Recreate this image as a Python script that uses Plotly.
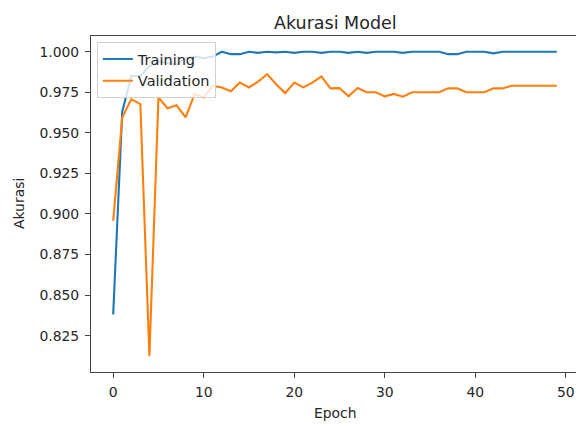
import plotly.graph_objects as go

epochs = list(range(50))
training = [0.838, 0.963, 0.985, 0.985, 0.991, 0.994, 0.993, 0.992, 0.996, 0.997,
            0.996, 0.997, 1.000, 0.9985, 0.9985, 1.000, 0.9993, 1.000, 0.9996, 1.000,
            0.9993, 1.000, 1.000, 0.9993, 1.000, 1.000, 0.9993, 1.000, 0.9993, 1.000,
            1.000, 1.000, 0.9993, 1.000, 1.000, 1.000, 1.000, 0.9985, 0.9985, 1.000,
            1.000, 1.000, 0.999, 1.000, 1.000, 1.000, 1.000, 1.000, 1.000, 1.000]
validation = [0.8957, 0.9595, 0.9708, 0.9677, 0.8124, 0.9718, 0.9652, 0.967, 0.9595, 0.974,
              0.9718, 0.979, 0.978, 0.9756, 0.981, 0.978, 0.9815, 0.9862, 0.980, 0.9745,
              0.981, 0.978, 0.981, 0.9848, 0.9774, 0.9776, 0.9725, 0.9776, 0.975, 0.975,
              0.9725, 0.974, 0.9723, 0.975, 0.975, 0.975, 0.975, 0.9774, 0.9774, 0.975,
              0.975, 0.975, 0.9774, 0.9774, 0.979, 0.979, 0.979, 0.979, 0.979, 0.979]
x_ticks = [0, 10, 20, 30, 40, 50]
y_ticks = [0.825, 0.850, 0.875, 0.900, 0.925, 0.950, 0.975, 1.000]
y_tick_text = ["0.825", "0.850", "0.875", "0.900", "0.925", "0.950", "0.975", "1.000"]

FONT = "DejaVu Sans"
fig = go.Figure()
fig.add_trace(go.Scatter(x=epochs, y=training, mode="lines", name="Training",
                         line=dict(color="#1f77b4", width=2.1)))
fig.add_trace(go.Scatter(x=epochs, y=validation, mode="lines", name="Validation",
                         line=dict(color="#ff7f0e", width=2.1)))

axis_common = dict(showgrid=False, zeroline=False, showline=True, linecolor="#444",
                   linewidth=1.1, mirror=True, ticks="outside", ticklen=5,
                   tickcolor="#444", tickwidth=1.1,
                   tickfont=dict(family=FONT, size=13.9, color="#262626"))
fig.update_xaxes(range=[-2.45, 51.45], tickvals=x_ticks, ticklabelstandoff=2, **axis_common)
fig.update_yaxes(range=[0.8026, 1.0097], tickvals=y_ticks, ticktext=y_tick_text,
                 ticklabelstandoff=3, **axis_common)

# The page body adds an 8px offset; figure is sized so the plot lands where the reference has it.
fig.update_layout(
    width=576, height=418,
    margin=dict(l=83, r=5, t=28, b=54),
    paper_bgcolor="white", plot_bgcolor="white",
    font=dict(family=FONT, color="#262626"),
    showlegend=True,
    legend=dict(x=0.012, y=0.982, xanchor="left", yanchor="top",
                bgcolor="rgba(255,255,255,0.8)", bordercolor="#d0d0d0", borderwidth=1,
                font=dict(family=FONT, size=14.5, color="#262626")),
    annotations=[
        dict(text="Akurasi Model", x=0.5, y=1, xref="paper", yref="paper",
             xanchor="center", yanchor="bottom", yshift=1, showarrow=False,
             font=dict(family=FONT, size=17.5, color="#262626")),
        dict(text="Epoch", x=0.5, y=0, xref="paper", yref="paper",
             xanchor="center", yanchor="top", yshift=-31, showarrow=False,
             font=dict(family=FONT, size=13.9, color="#262626")),
        dict(text="Akurasi", x=0, y=0.5, xref="paper", yref="paper",
             xanchor="right", yanchor="middle", xshift=-62, textangle=-90, showarrow=False,
             font=dict(family=FONT, size=13.9, color="#262626")),
    ],
)

fig.write_html("out.html")
